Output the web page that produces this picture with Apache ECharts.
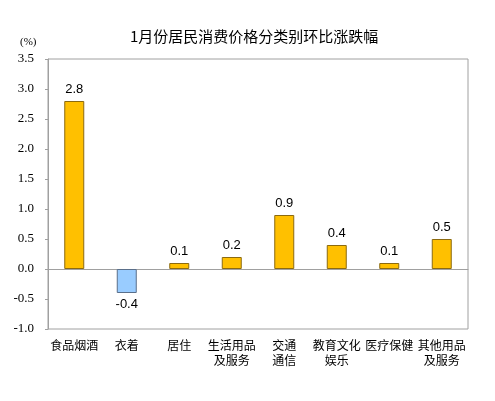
<!DOCTYPE html>
<html>
<head>
<meta charset="utf-8">
<script src="https://cdn.jsdelivr.net/npm/echarts@6/dist/echarts.min.js"></script>
<style>
  html, body { margin: 0; padding: 0; background: #fff; }
  #chart { width: 495px; height: 401px; }
</style>
</head>
<body>
<div id="chart"></div>
<script>
// 分类
let categories = ['食品烟酒', '衣着', '居住', '生活用品\n及服务', '交通\n通信', '教育文化\n娱乐', '医疗保健', '其他用品\n及服务'];
// 环比涨跌幅 (%)
let values = [2.8, -0.4, 0.1, 0.2, 0.9, 0.4, 0.1, 0.5];

let chart = echarts.init(document.getElementById('chart'));

let option = {
    animation: false,
    title: {
        text: '1月份居民消费价格分类别环比涨跌幅',
        left: 125,
        top: 24,
        textStyle: {
            color: '#000',
            fontSize: 15,
            fontWeight: 'normal',
            fontFamily: 'Noto Sans CJK SC'
        }
    },
    graphic: [{
        type: 'text',
        left: 20,
        top: 37,
        style: {
            text: '(%)',
            fontSize: 11,
            fontFamily: 'Liberation Serif',
            fill: '#000'
        }
    }],
    grid: {
        left: 48,
        right: 27,
        top: 59,
        bottom: 72,
        show: true,
        borderColor: '#a0a0a0',
        borderWidth: 1
    },
    xAxis: {
        type: 'category',
        data: categories,
        axisLine: { show: true, onZero: true, lineStyle: { color: '#a0a0a0' } },
        axisTick: { show: false },
        axisLabel: {
            interval: 0,
            color: '#000',
            fontSize: 12,
            lineHeight: 15,
            fontFamily: 'Noto Sans CJK SC',
            margin: 9
        }
    },
    yAxis: {
        type: 'value',
        min: -1,
        max: 3.5,
        interval: 0.5,
        axisLine: { show: true, lineStyle: { color: '#a0a0a0' } },
        axisTick: { show: true, length: 3, lineStyle: { color: '#a0a0a0' } },
        splitLine: { show: false },
        axisLabel: {
            color: '#000',
            fontSize: 13,
            fontFamily: 'Liberation Serif',
            margin: 14,
            formatter: v => v.toFixed(1)
        }
    },
    series: [{
        type: 'bar',
        data: values.map(v => ({
            value: v,
            itemStyle: v < 0
                ? { color: '#99ccff', borderColor: '#5a6f8a', borderWidth: 1 }
                : { color: '#ffc000', borderColor: '#8b6a10', borderWidth: 1 }
        })),
        barWidth: 20,
        label: {
            show: true,
            position: 'outside',
            color: '#000',
            fontSize: 13,
            fontFamily: 'Liberation Sans',
            distance: 5,
            formatter: p => p.value.toFixed(1)
        }
    }]
};

chart.setOption(option);
</script>
</body>
</html>
